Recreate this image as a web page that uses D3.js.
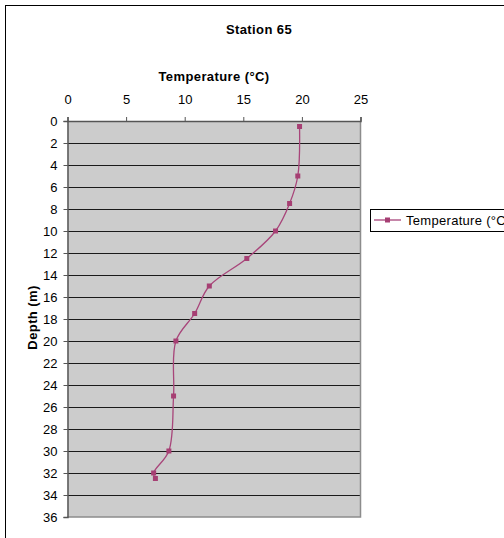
<!DOCTYPE html>
<html><head><meta charset="utf-8">
<script src="https://cdn.jsdelivr.net/npm/d3@7"></script>
<style>html,body{margin:0;padding:0;background:#fff;overflow:hidden}svg{display:block}</style>
</head><body>
<script>
const title = "Station 65";
const xTitle = "Temperature (°C)";
const yTitle = "Depth (m)";
const seriesName = "Temperature (°C)";
const temperature = [19.8, 19.65, 18.95, 17.75, 15.3, 12.1, 10.85, 9.25, 9.05, 8.65, 7.35, 7.5];
const depth =       [0.5,  5,     7.5,   10,    12.5, 15,   17.5,  20,   25,   30,   32,   32.5];
const xTicks = [0, 5, 10, 15, 20, 25];
const yTicks = d3.range(0, 37, 2);

const W = 504, H = 538;
const svg = d3.select("body").append("svg").attr("width", W).attr("height", H)
  .style("font-family", "'Liberation Sans', Arial, sans-serif");

// outer chart border
svg.append("rect").attr("x", 5.5).attr("y", 5.5).attr("width", 520).attr("height", 560)
  .attr("fill", "#fff").attr("stroke", "#000").attr("stroke-width", 1);

const L = 67.5, R = 360.5, T = 121, B = 517;
const x = d3.scaleLinear().domain([0, 25]).range([L, R]);
const y = d3.scaleLinear().domain([0, 36]).range([T, B]);

// plot area
svg.append("rect").attr("x", L).attr("y", T).attr("width", R - L).attr("height", B - T)
  .attr("fill", "#cccccc");

// gridlines
svg.append("g").selectAll("line").data(yTicks.filter(d => d > 0 && d < 36)).join("line")
  .attr("x1", L).attr("x2", R)
  .attr("y1", d => Math.round(y(d)) + 0.5).attr("y2", d => Math.round(y(d)) + 0.5)
  .attr("stroke", "#1a1a1a").attr("stroke-width", 1);

// plot border right/bottom
svg.append("path").attr("d", `M${R},${T}V${B}H${L}`).attr("fill", "none")
  .attr("stroke", "#8c8c8c").attr("stroke-width", 1.5);

// axes
const xAxis = d3.axisTop(x).tickValues(xTicks).tickSize(4).tickPadding(13);
const gx = svg.append("g").attr("transform", `translate(0,${T})`).call(xAxis);
const yAxis = d3.axisLeft(y).tickValues(yTicks).tickSize(4).tickPadding(6);
const gy = svg.append("g").attr("transform", `translate(${L},0)`).call(yAxis);
gx.selectAll(".tick text").attr("dy", "0");
[gx, gy].forEach(g => {
  g.select(".domain").attr("stroke", "#555").attr("stroke-width", 1.5);
  g.selectAll(".tick line").attr("stroke", "#555");
  g.selectAll(".tick text").attr("fill", "#000").style("font-size", "13px")
    .style("font-family", "'Liberation Sans', Arial, sans-serif");
});

// titles
svg.append("text").attr("x", 259).attr("y", 34).attr("text-anchor", "middle")
  .style("font-size", "13px").style("font-weight", "bold").style("letter-spacing", "0.4px").text(title);
svg.append("text").attr("x", 214).attr("y", 80.5).attr("text-anchor", "middle")
  .style("font-size", "13px").style("font-weight", "bold").style("letter-spacing", "0.4px").text(xTitle);
svg.append("text").attr("transform", "translate(37,317.5) rotate(-90)").attr("text-anchor", "middle")
  .style("font-size", "13px").style("font-weight", "bold").style("letter-spacing", "0.4px").text(yTitle);

// line
const pts = temperature.map((t, i) => [t, depth[i]]);
const lineColor = "#a8457a";
svg.append("path").datum(pts)
  .attr("d", d3.line().x(d => x(d[0])).y(d => y(d[1])).curve(d3.curveCatmullRom.alpha(0.5)))
  .attr("fill", "none").attr("stroke", lineColor).attr("stroke-width", 1.3);
svg.append("g").selectAll("rect").data(pts).join("rect")
  .attr("x", d => x(d[0]) - 2.5).attr("y", d => y(d[1]) - 2.5)
  .attr("width", 5).attr("height", 5).attr("fill", "#a63f73");

// legend (clipped at the right edge, as in the reference)
const lg = svg.append("g");
lg.append("rect").attr("x", 370.5).attr("y", 209.5).attr("width", 160).attr("height", 22)
  .attr("fill", "#fff").attr("stroke", "#000");
lg.append("line").attr("x1", 374).attr("x2", 401).attr("y1", 220).attr("y2", 220)
  .attr("stroke", lineColor).attr("stroke-width", 1.3);
lg.append("rect").attr("x", 385).attr("y", 217.5).attr("width", 5).attr("height", 5).attr("fill", "#a63f73");
lg.append("text").attr("x", 406).attr("y", 224.5).style("font-size", "13px")
  .style("letter-spacing", "0.3px").text(seriesName);
</script>
</body></html>
